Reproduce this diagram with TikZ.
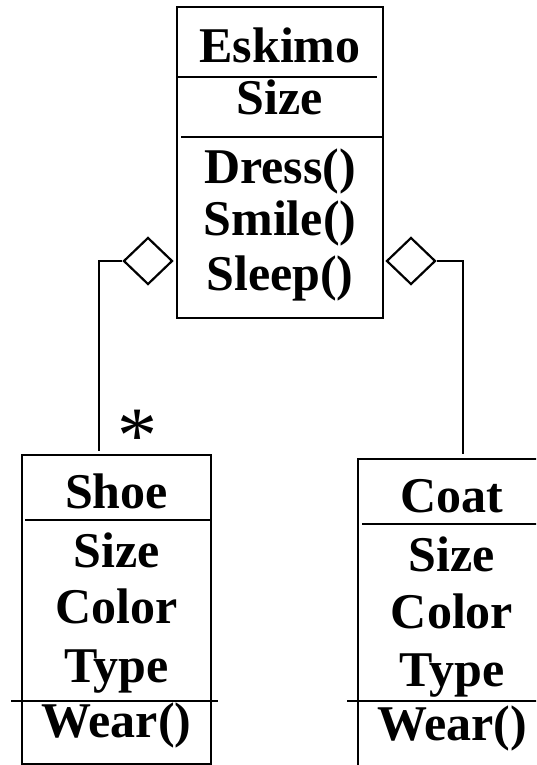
\documentclass[tikz,border=0pt]{standalone}
\usepackage{fontspec}
\setmainfont{Liberation Serif}
\usetikzlibrary{shapes.geometric}

\begin{document}
\begin{tikzpicture}[x=1pt,y=1pt,yscale=-1,
  cls/.style={draw,line width=2.5pt,inner sep=0pt},
  agg/.style={draw,diamond,line width=2.2pt,fill=white,inner sep=0pt,minimum width=49pt,minimum height=47pt},
  lbl/.style={anchor=base,inner sep=0pt,font=\fontsize{50}{50}\selectfont\bfseries},
  sep/.style={line width=2.5pt},
  lnk/.style={line width=2.2pt}]
\useasboundingbox (0,0) rectangle (536,765);
\clip (0,0) rectangle (536,765);

%Shape: Class boxes
\node [cls,minimum width=206pt,minimum height=311pt] (eskimo) at (280,162.5) {};
\node [cls,minimum width=189pt,minimum height=309pt] (shoe) at (116.5,609.5) {};
\node [cls,minimum width=188pt,minimum height=361pt] (coat) at (452,639.5) {};

%Straight Lines: compartments
\draw [sep] (177,77) -- (377,77) ;
\draw [sep] (181,137) -- (383,137) ;
\draw [sep] (25,520) -- (211,520) ;
\draw [sep] (11,701) -- (218,701) ;
\draw [sep] (362,524) -- (546,524) ;
\draw [sep] (347,701) -- (546,701) ;

%Shape: Diamonds
\node [agg] (aggShoe) at (148,261) {};
\node [agg] (aggCoat) at (411,261) {};
\coordinate (shoeEnd) at (99,451);
\coordinate (coatEnd) at (463,454);

%Connectors
\draw [lnk] (aggShoe.west) -| (shoeEnd) ;
\draw [lnk] (aggCoat.east) -| (coatEnd) ;

% Text Node
\draw (280,63) node [lbl] (eskName) {Eskimo};
% Text Node
\draw (280,115) node [lbl] (eskSize) {Size};
% Text Node
\draw (280,183) node [lbl] (eskDress) {Dress()};
% Text Node
\draw (280,235) node [lbl] (eskSmile) {Smile()};
% Text Node
\draw (280,290) node [lbl] (eskSleep) {Sleep()};
% Text Node
\draw (116.5,508) node [lbl] (shoeName) {Shoe};
% Text Node
\draw (116.5,567) node [lbl] (shoeSize) {Size};
% Text Node
\draw (116.5,623) node [lbl] (shoeColor) {Color};
% Text Node
\draw (116.5,682) node [lbl] (shoeType) {Type};
% Text Node
\draw (116.5,737) node [lbl] (shoeWear) {Wear()};
% Text Node
\draw (452,512) node [lbl] (coatName) {Coat};
% Text Node
\draw (452,571) node [lbl] (coatSize) {Size};
% Text Node
\draw (452,628) node [lbl] (coatColor) {Color};
% Text Node
\draw (452,686) node [lbl] (coatType) {Type};
% Text Node
\draw (452,740) node [lbl] (coatWear) {Wear()};
% Text Node
\draw (137,462) node [anchor=base,inner sep=0pt,font=\fontsize{80}{80}\selectfont] (mult) {*};
\end{tikzpicture}
\end{document}
